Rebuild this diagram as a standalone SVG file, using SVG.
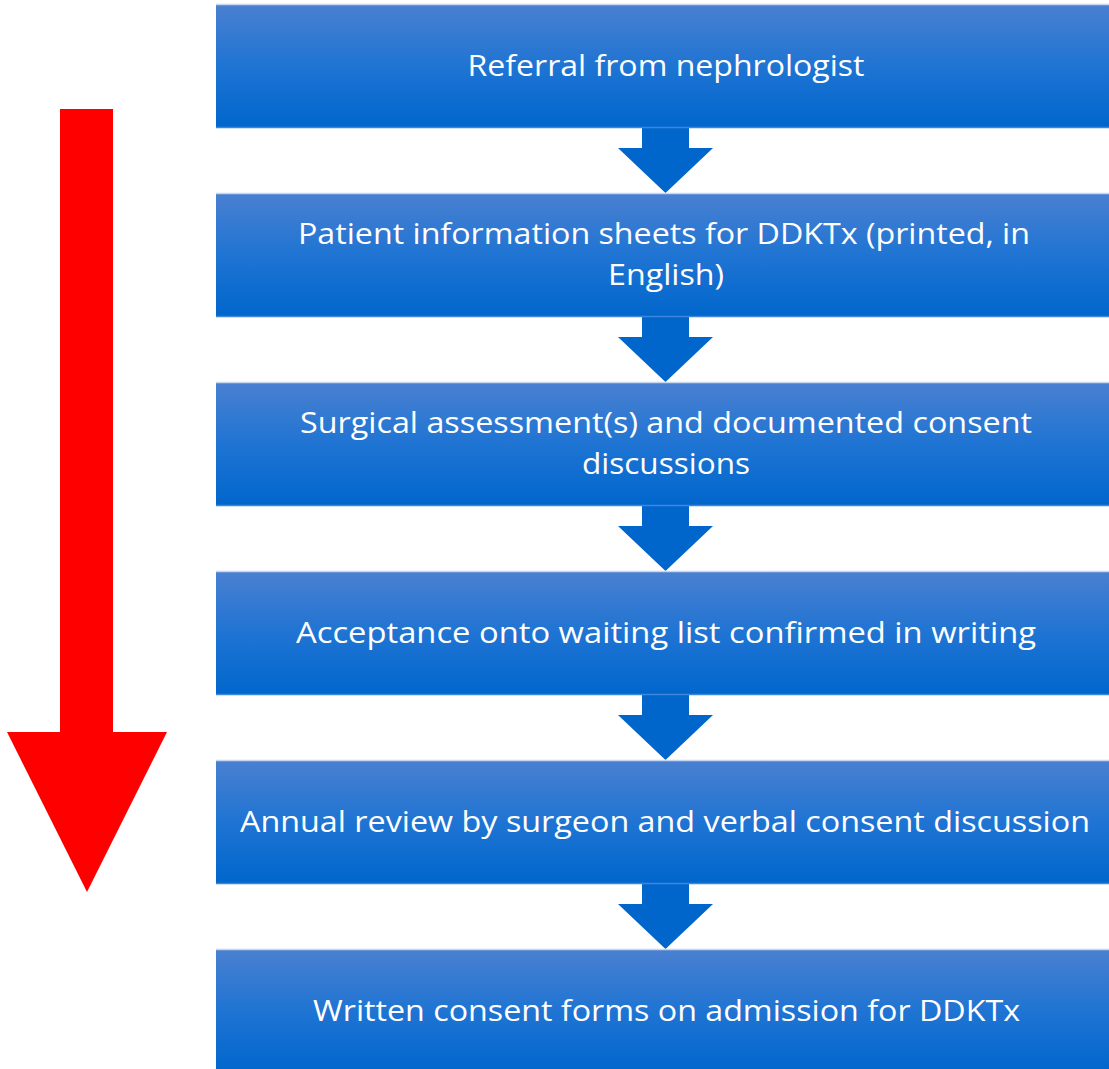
<svg xmlns="http://www.w3.org/2000/svg" width="1109" height="1069" viewBox="0 0 1109 1069">
  <defs>
    <linearGradient id="boxFill" x1="0" y1="0" x2="0" y2="1">
      <stop offset="0" stop-color="#4a80d1"/>
      <stop offset="0.5" stop-color="#1f74d3"/>
      <stop offset="1" stop-color="#0066cc"/>
    </linearGradient>
    <style>
      .box { fill: url(#boxFill); }
      .edgeTop { stroke: #c6d7f0; stroke-width: 1.5; }
      .edgeBot { stroke: #3d86db; stroke-width: 1.5; }
      .label { font-family: "Open Sans", "Liberation Sans", sans-serif; font-size: 30px; fill: #ffffff; text-anchor: middle; }
      .step { fill: #0066cc; }
      .timeline { fill: #ff0000; }
    </style>
  </defs>

  <!-- overall direction arrow -->
  <g id="timeline-arrow">
    <polygon class="timeline" points="60,109 113,109 113,732 167,732 87,892 7,732 60,732"/>
  </g>

  <!-- step connectors -->
  <g id="connectors">
    <polygon class="step" points="642,127 689,127 689,148 713,148 665.5,193 618,148 642,148"/>
    <polygon class="step" points="642,316 689,316 689,337 713,337 665.5,382 618,337 642,337"/>
    <polygon class="step" points="642,505 689,505 689,526 713,526 665.5,571 618,526 642,526"/>
    <polygon class="step" points="642,694 689,694 689,715 713,715 665.5,760 618,715 642,715"/>
    <polygon class="step" points="642,883 689,883 689,904 713,904 665.5,949 618,904 642,904"/>
  </g>

  <g id="step1">
    <rect class="box" x="216" y="4" width="893" height="124"/>
    <line class="edgeTop" x1="216" y1="4.5" x2="1109" y2="4.5"/>
    <line class="edgeBot" x1="216" y1="127.5" x2="1109" y2="127.5"/>
    <text class="label" x="666" y="76" textLength="397" lengthAdjust="spacingAndGlyphs">Referral from nephrologist</text>
  </g>

  <g id="step2">
    <rect class="box" x="216" y="193" width="893" height="124"/>
    <line class="edgeTop" x1="216" y1="193.5" x2="1109" y2="193.5"/>
    <line class="edgeBot" x1="216" y1="316.5" x2="1109" y2="316.5"/>
    <text class="label" x="664" y="244" textLength="732" lengthAdjust="spacingAndGlyphs">Patient information sheets for DDKTx (printed, in</text>
    <text class="label" x="666" y="285" textLength="116" lengthAdjust="spacingAndGlyphs">English)</text>
  </g>

  <g id="step3">
    <rect class="box" x="216" y="382" width="893" height="124"/>
    <line class="edgeTop" x1="216" y1="382.5" x2="1109" y2="382.5"/>
    <line class="edgeBot" x1="216" y1="505.5" x2="1109" y2="505.5"/>
    <text class="label" x="666" y="433" textLength="732" lengthAdjust="spacingAndGlyphs">Surgical assessment(s) and documented consent</text>
    <text class="label" x="666" y="474" textLength="168" lengthAdjust="spacingAndGlyphs">discussions</text>
  </g>

  <g id="step4">
    <rect class="box" x="216" y="571" width="893" height="124"/>
    <line class="edgeTop" x1="216" y1="571.5" x2="1109" y2="571.5"/>
    <line class="edgeBot" x1="216" y1="694.5" x2="1109" y2="694.5"/>
    <text class="label" x="666" y="643" textLength="740" lengthAdjust="spacingAndGlyphs">Acceptance onto waiting list confirmed in writing</text>
  </g>

  <g id="step5">
    <rect class="box" x="216" y="760" width="893" height="124"/>
    <line class="edgeTop" x1="216" y1="760.5" x2="1109" y2="760.5"/>
    <line class="edgeBot" x1="216" y1="883.5" x2="1109" y2="883.5"/>
    <text class="label" x="665" y="832" textLength="850" lengthAdjust="spacingAndGlyphs">Annual review by surgeon and verbal consent discussion</text>
  </g>

  <g id="step6">
    <rect class="box" x="216" y="949" width="893" height="124"/>
    <line class="edgeTop" x1="216" y1="949.5" x2="1109" y2="949.5"/>
    <text class="label" x="666.5" y="1021" textLength="707" lengthAdjust="spacingAndGlyphs">Written consent forms on admission for DDKTx</text>
  </g>
</svg>
